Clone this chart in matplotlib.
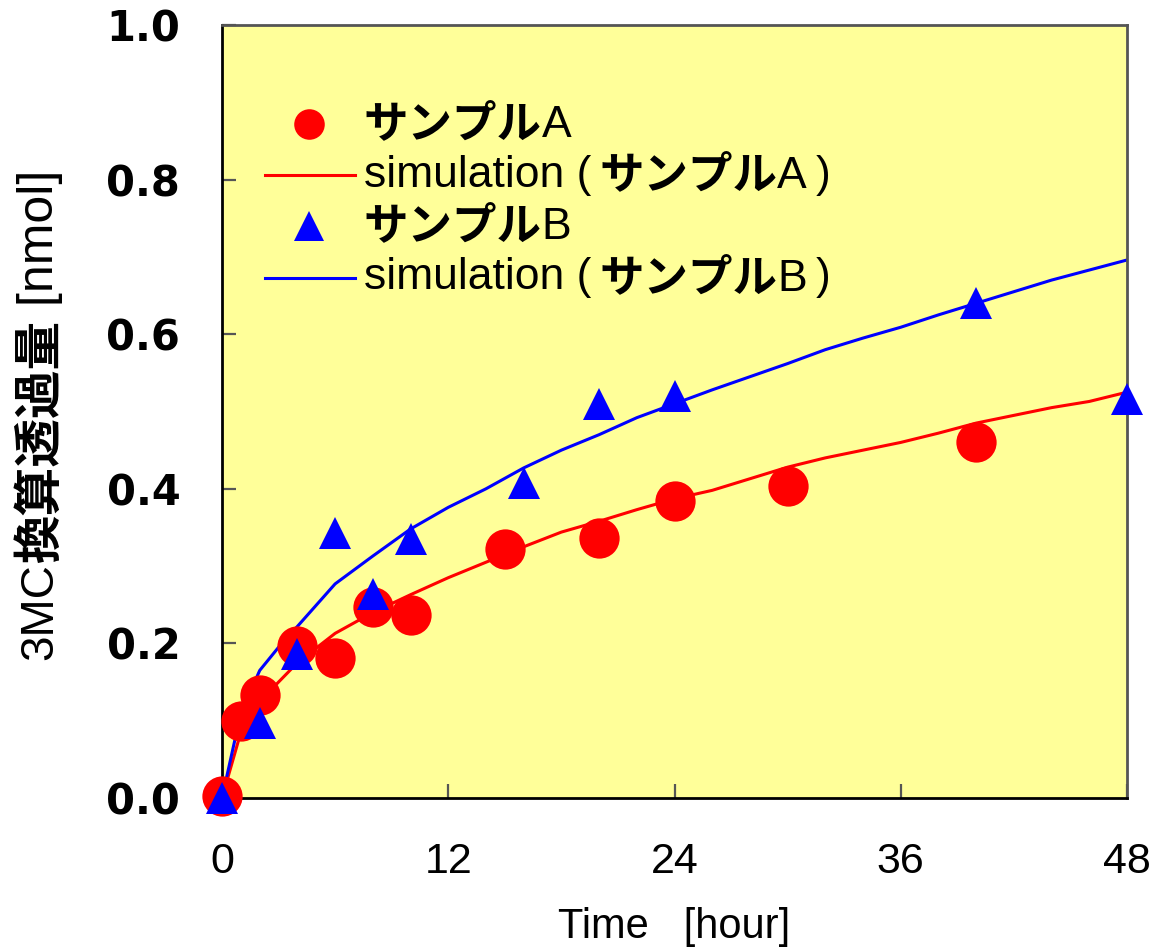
import matplotlib
matplotlib.use('Agg')
import matplotlib.pyplot as plt
from matplotlib import font_manager as fm
from matplotlib.offsetbox import AnchoredOffsetbox, HPacker, VPacker, TextArea, DrawingArea
from matplotlib.lines import Line2D

# ---- data ----
time_a = [0, 1, 2, 4, 6, 8, 10, 15, 20, 24, 30, 40]
amount_a = [0.003, 0.100, 0.133, 0.197, 0.181, 0.247, 0.237, 0.322, 0.336, 0.384, 0.404, 0.461]
time_b = [0, 2, 4, 6, 8, 10, 16, 20, 24, 40, 48]
amount_b = [0.000, 0.097, 0.186, 0.343, 0.264, 0.335, 0.407, 0.510, 0.520, 0.640, 0.516]
sim_time = [0, 1, 2, 3, 4, 6, 8, 10, 12, 14, 16, 18, 20, 22, 24, 26, 28, 30, 32, 34,
            36, 38, 40, 42, 44, 46, 48]
sim_a = [0.0, 0.085, 0.125, 0.150, 0.175, 0.213, 0.240, 0.263, 0.285, 0.305, 0.325,
         0.344, 0.358, 0.373, 0.387, 0.398, 0.413, 0.428, 0.440, 0.450, 0.460, 0.472,
         0.485, 0.495, 0.505, 0.513, 0.525]
sim_b = [0.0, 0.110, 0.165, 0.195, 0.222, 0.277, 0.313, 0.348, 0.376, 0.400, 0.427,
         0.450, 0.470, 0.492, 0.510, 0.528, 0.545, 0.562, 0.580, 0.595, 0.609, 0.625,
         0.640, 0.655, 0.670, 0.683, 0.696]
x_ticks = [0, 12, 24, 36, 48]
y_ticks = [0.0, 0.2, 0.4, 0.6, 0.8, 1.0]
sample_word = 'サンプル'
suffix_a = 'A'
suffix_b = 'B'
sim_prefix = 'simulation ('
sim_suffix = ')'
xlabel = 'Time   [hour]'
ylabel_parts = ['3MC', '換算透過量', ' [nmol]']

# ---- fonts ----
names = {f.name for f in fm.fontManager.ttflist}
NARROW = 'Liberation Sans Narrow' if 'Liberation Sans Narrow' in names else 'Liberation Sans'
LAT = 'Liberation Sans'
CJK = 'Noto Sans CJK JP'

RED = '#FF0000'
BLUE = '#0000FF'
BG = '#FFFF99'

fig = plt.figure(figsize=(11.52, 9.47), dpi=100)
ax = fig.add_axes([222 / 1152, 1 - 798 / 947, (1127 - 222) / 1152, (798 - 25) / 947])
ax.set_facecolor(BG)

ax.plot(sim_time, sim_a, color=RED, lw=2.2, zorder=2)
ax.plot(sim_time, sim_b, color=BLUE, lw=2.2, zorder=2)
ax.plot(time_a, amount_a, 'o', color=RED, ms=29, mew=0, zorder=3, clip_on=False)
ax.plot(time_b, amount_b, '^', color=BLUE, ms=23, mew=0, zorder=4, clip_on=False)

ax.set_xlim(0, 48)
ax.set_ylim(0, 1.0)
ax.set_xticks(x_ticks)
ax.set_yticks(y_ticks)
ax.set_yticklabels([f'{v:.1f}' for v in y_ticks])

for s in ['left', 'bottom']:
    ax.spines[s].set_color('black')
    ax.spines[s].set_linewidth(2)
for s in ['top', 'right']:
    ax.spines[s].set_color('#555555')
    ax.spines[s].set_linewidth(2)

ax.tick_params(direction='in', length=10, width=1.6, color='#555555')
ax.tick_params(axis='y', pad=30)
ax.tick_params(axis='x', pad=32)
for t in ax.get_yticklabels():
    t.set_fontfamily('DejaVu Sans')
    t.set_fontweight('bold')
    t.set_fontsize(30)
for t in ax.get_xticklabels():
    t.set_fontfamily(LAT)
    t.set_fontsize(31)

ax.set_xlabel(xlabel, fontsize=30, family=LAT, labelpad=18)

# y label in three pieces (mixed weights)
t1 = fig.text(40 / 1152, 1 - 660 / 947, ylabel_parts[0], rotation=90, ha='center', va='bottom',
              fontsize=33, family=NARROW)
t2 = ax.annotate(ylabel_parts[1], xy=(0.5, 1.0), xycoords=t1, rotation=90, ha='center',
                 va='bottom', fontsize=35, family=[CJK], weight='bold', annotation_clip=False)
t3 = ax.annotate(ylabel_parts[2], xy=(0.5, 1.0), xycoords=t2, rotation=90, ha='center',
                 va='bottom', fontsize=36, family=NARROW, annotation_clip=False)

# ---- legend (custom, mixed weights) ----
FS = 32
HW, HH = 65, 37


def handle(kind, color):
    da = DrawingArea(HW, HH, 0, 0)
    if kind == 'line':
        da.add_artist(Line2D([0, HW], [HH / 2, HH / 2], color=color, lw=2.2))
    else:
        da.add_artist(Line2D([HW / 2 - 1], [HH / 2], marker=kind, color=color, ms=22, mew=0,
                             linestyle='none'))
    return da


def text(txt, w):
    fam = [CJK] if w == 'bold' else [LAT, CJK]
    return TextArea(txt, textprops=dict(fontsize=FS, family=fam, weight=w))


def row(kind, color, pieces):
    children = [handle(kind, color)]
    for txt, w in pieces:
        children.append(text(txt, w))
    return HPacker(children=children, align='center', pad=0, sep=6)


def name_box(suffix):
    return HPacker(children=[text(sample_word, 'bold'), text(suffix, 'normal')],
                   align='baseline', pad=0, sep=0)


def row2(kind, color, parts):
    return HPacker(children=[handle(kind, color)] + parts, align='center', pad=0, sep=6)


rows = [
    row2('o', RED, [name_box(suffix_a)]),
    row2('line', RED, [text(sim_prefix, 'normal'), name_box(suffix_a), text(sim_suffix, 'normal')]),
    row2('^', BLUE, [name_box(suffix_b)]),
    row2('line', BLUE, [text(sim_prefix, 'normal'), name_box(suffix_b), text(sim_suffix, 'normal')]),
]
box = VPacker(children=rows, align='left', pad=0, sep=0)
anch = AnchoredOffsetbox(loc='upper left', child=box, pad=0, borderpad=0, frameon=False,
                         bbox_to_anchor=((265 - 222) / 905, 1 - (98 - 25) / 773),
                         bbox_transform=ax.transAxes)
ax.add_artist(anch)

fig.savefig('out.png', dpi=100)
